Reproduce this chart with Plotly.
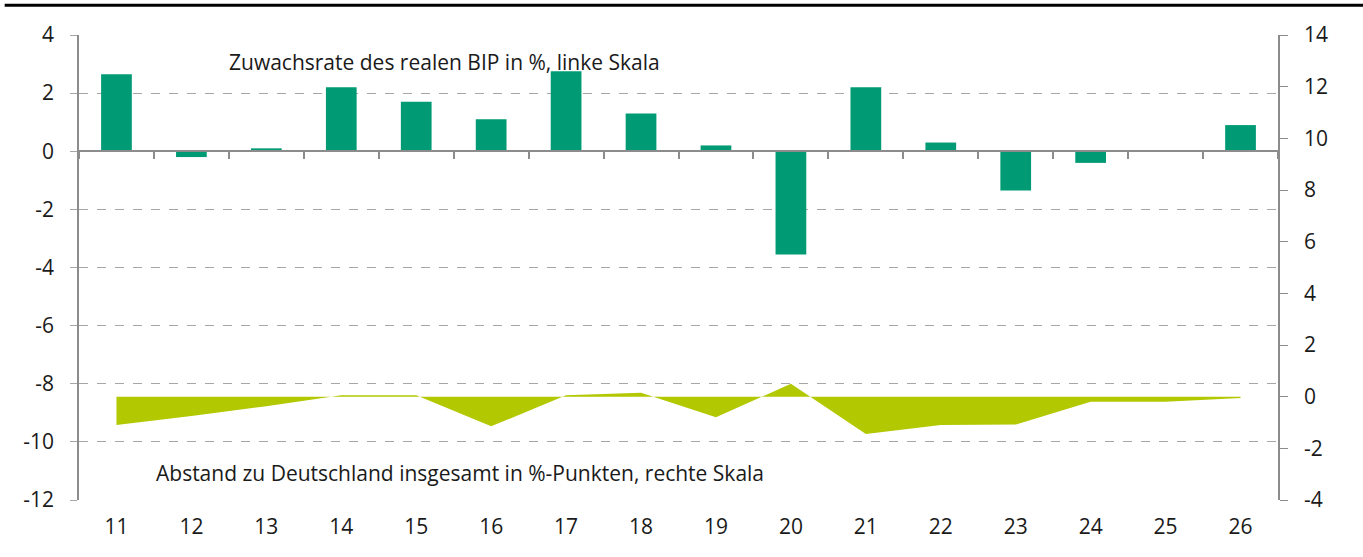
import plotly.graph_objects as go

years = ["11", "12", "13", "14", "15", "16", "17", "18", "19", "20", "21", "22", "23", "24", "25", "26"]
bip_growth = [2.65, -0.2, 0.1, 2.2, 1.7, 1.1, 2.75, 1.3, 0.2, -3.55, 2.2, 0.3, -1.35, -0.4, 0.0, 0.9]
gap_de = [-1.1, -0.75, -0.37, 0.05, 0.05, -1.15, 0.05, 0.15, -0.8, 0.5, -1.45, -1.1, -1.08, -0.2, -0.2, -0.05]

left_ticks = [-12, -10, -8, -6, -4, -2, 0, 2, 4]
right_ticks = [-4, -2, 0, 2, 4, 6, 8, 10, 12, 14]

label_bip = "Zuwachsrate des realen BIP in %, linke Skala"
label_gap = "Abstand zu Deutschland insgesamt in %-Punkten, rechte Skala"

GREEN = "#009B74"
LIME = "#B2C800"
GRID = "#A6A6A6"
AXIS = "#8C8C8C"
FONT = "Open Sans"
FS = 21

fig = go.Figure()

fig.add_trace(go.Scatter(
    x=years, y=gap_de, yaxis="y2", mode="lines",
    line=dict(width=0, color=LIME), fill="tozeroy", fillcolor=LIME,
    showlegend=False, hoverinfo="skip",
))

fig.add_trace(go.Bar(
    x=years, y=bip_growth, marker=dict(color=GREEN, line=dict(width=0)),
    width=0.41, showlegend=False,
))

# helper trace for the category axis drawn at zero
fig.add_trace(go.Scatter(
    x=years, y=[0] * len(years), xaxis="x2", mode="markers",
    marker=dict(opacity=0), showlegend=False, hoverinfo="skip",
))

fig.update_layout(
    width=1363, height=557,
    margin=dict(l=79, r=85, t=35, b=57, autoexpand=False),
    paper_bgcolor="white", plot_bgcolor="white",
    font=dict(family=FONT, size=FS, color="#1a1a1a"),
    xaxis=dict(
        type="category", range=[-0.5, 15.5], showgrid=False, showline=False,
        ticks="", ticklabelstandoff=12, tickfont=dict(size=FS), automargin=False,
    ),
    xaxis2=dict(
        type="category", overlaying="x", anchor="free", position=0.75,
        range=[-0.5, 15.5], showline=True, linecolor=AXIS, linewidth=1.5,
        ticks="outside", ticklen=7, tickcolor=AXIS, tickwidth=1.5,
        tickson="boundaries", showticklabels=False, showgrid=False, automargin=False,
    ),
    yaxis=dict(
        range=[-12, 4], tickmode="array", tickvals=left_ticks,
        ticktext=[str(v) for v in left_ticks],
        showgrid=True, gridcolor=GRID,
        griddash="dash", gridwidth=1, showline=True, linecolor=AXIS, linewidth=1.5,
        ticks="outside", ticklen=7, tickcolor=GRID, zeroline=False,
        ticklabelstandoff=12, tickfont=dict(size=FS), automargin=False,
    ),
    yaxis2=dict(
        range=[-4, 14], tickmode="array", tickvals=right_ticks,
        ticktext=[str(v) for v in right_ticks],
        overlaying="y", side="right",
        showgrid=False, zeroline=False, showline=True, linecolor=AXIS, linewidth=1.5,
        ticks="outside", ticklen=8, tickcolor=AXIS,
        ticklabelstandoff=12, tickfont=dict(size=FS), automargin=False,
    ),
    annotations=[
        dict(text=label_bip, xref="paper", yref="paper", x=0.1235, y=0.943,
             xanchor="left", yanchor="middle", showarrow=False, font=dict(size=FS)),
        dict(text=label_gap, xref="paper", yref="paper", x=0.0625, y=0.058,
             xanchor="left", yanchor="middle", showarrow=False, font=dict(size=FS)),
    ],
    shapes=[
        dict(type="line", xref="paper", yref="paper", x0=-0.062, x1=1.071,
             y0=1.064, y1=1.064, line=dict(color="black", width=3)),
    ],
)

fig.write_html(
    "out.html",
    config={"displayModeBar": False},
    post_script="document.body.style.margin='0';document.body.style.overflow='hidden';",
)
